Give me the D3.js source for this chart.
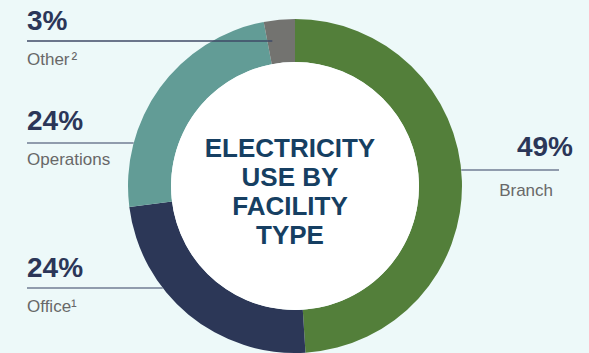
<!DOCTYPE html>
<html>
<head>
<meta charset="utf-8">
<script src="https://cdn.jsdelivr.net/npm/d3@7"></script>
<style>
  body { margin: 0; background: #edf9f9; }
  svg { display: block; font-family: "Liberation Sans", Arial, sans-serif; }
  .pct { font-weight: bold; font-size: 28px; fill: #2b3658; }
  .cat { font-size: 17px; fill: #686868; }
  .title { font-weight: bold; font-size: 26px; fill: #163f62; }
</style>
</head>
<body>
<div id="chart"></div>
<script>
// Title data
const categories = ["Branch", "Office", "Operations", "Other"];
const shares = [49, 24, 24, 3];
const notes = ["", "¹", "", "²"];
const colors = ["#537f3a", "#2c3757", "#629c96", "#737370"];
const titleLines = ["ELECTRICITY", "USE BY", "FACILITY", "TYPE"];

// Title layout
const width = 589;
const height = 353;
const cx = 295;
const cy = 186;
const outerR = 167;
const innerR = 124;

// label anchors: side, y of the percent baseline, gaps to line and name
const labelSide = ["right", "left", "left", "left"];
const labelY = [156, 277, 130, 30];
const lineGap = [14, 11, 13, 11];
const nameGap = [40, 35, 35, 35];

const svg = d3.select("#chart")
    .append("svg")
    .attr("width", width)
    .attr("height", height);

svg.append("rect")
    .attr("width", width)
    .attr("height", height)
    .attr("fill", "#edf9f9");

const pie = d3.pie().sort(null).value(d => d.v);
const arc = d3.arc().innerRadius(innerR).outerRadius(outerR);

const rows = categories.map((c, i) => ({ name: c, v: shares[i], note: notes[i], color: colors[i] }));
const arcs = pie(rows);

const ring = svg.append("g").attr("transform", `translate(${cx},${cy})`);

ring.selectAll("path")
    .data(arcs)
    .enter()
    .append("path")
    .attr("d", arc)
    .attr("fill", d => d.data.color);

ring.append("circle")
    .attr("r", innerR)
    .attr("fill", "#ffffff");

// Title leader lines and labels
arcs.forEach(function(d, i) {
    const y = labelY[i];
    const lineY = y + lineGap[i];
    const dy = lineY - cy;
    const edge = Math.sqrt(outerR * outerR - dy * dy);
    let x1, x2;
    if (labelSide[i] === "left") {
        x1 = 27;
        // small slices get the line carried into the ring
        x2 = d.data.v < 5 ? cx + arc.centroid(d)[0] - 9 : cx - edge;
    } else {
        x1 = cx + edge;
        x2 = 559;
    }

    svg.append("line")
        .attr("x1", x1)
        .attr("x2", x2)
        .attr("y1", lineY)
        .attr("y2", lineY)
        .attr("stroke", d.data.v < 5 ? "#3f4a66" : "#717d93")
        .attr("stroke-width", 1.4);

    const left = labelSide[i] === "left";

    svg.append("text")
        .attr("class", "pct")
        .attr("x", left ? 27 : 573)
        .attr("y", y)
        .attr("text-anchor", left ? "start" : "end")
        .text(d.data.v + "%");

    const cat = svg.append("text")
        .attr("class", "cat")
        .attr("x", left ? 27 : 553)
        .attr("y", y + nameGap[i])
        .attr("text-anchor", left ? "start" : "end")
        .text(d.data.name);

    if (d.data.note) {
        cat.append("tspan")
            .attr("dx", d.data.note === "²" ? 2 : 0)
            .text(d.data.note);
    }
});

// Title centre title
svg.append("g")
    .selectAll("text")
    .data(titleLines)
    .enter()
    .append("text")
    .attr("class", "title")
    .attr("text-anchor", "middle")
    .attr("x", 290)
    .attr("y", (d, i) => 157 + 29 * i)
    .text(d => d);
</script>
</body>
</html>
